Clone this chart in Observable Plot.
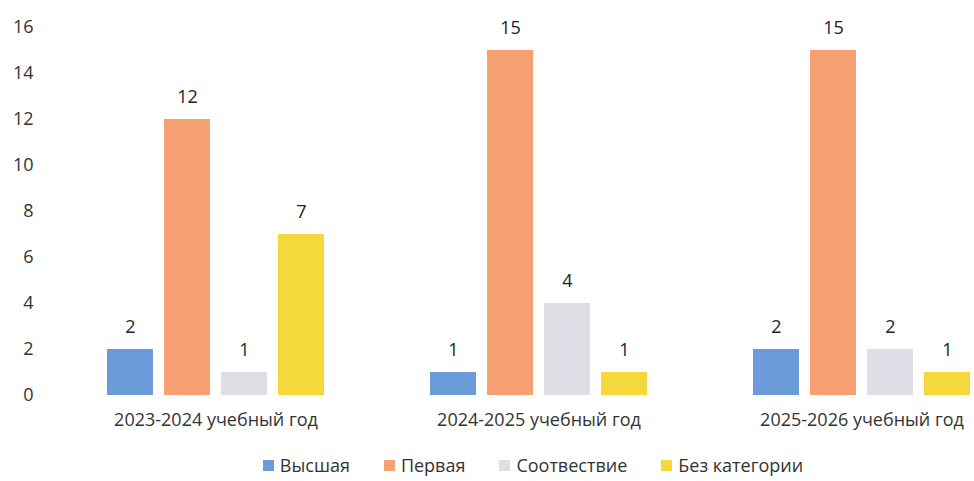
<!DOCTYPE html>
<html><head><meta charset="utf-8">
<script src="https://cdn.jsdelivr.net/npm/d3@7"></script>
<script src="https://cdn.jsdelivr.net/npm/@observablehq/plot@0.6"></script>
<style>
html,body{margin:0;padding:0;background:#fff;overflow:hidden;}
#wrap{width:1060px;font-family:"Open Sans",sans-serif;}
.legend{display:flex;justify-content:center;gap:34px;font-size:18px;color:#333;margin-top:18px;width:1066px;}
.legend span{display:inline-flex;align-items:center;}
.legend i{display:inline-block;width:11px;height:11px;margin-right:6px;}
</style></head>
<body><div id="wrap"></div>
<script>
const years = ["2023-2024 учебный год", "2024-2025 учебный год", "2025-2026 учебный год"];
const categories = ["Высшая", "Первая", "Соотвествие", "Без категории"];
const vysshaya = [2, 1, 2];
const pervaya = [12, 15, 15];
const sootv = [1, 4, 2];
const bezKat = [7, 1, 1];
const colors = ["#6b9bd8", "#f6a073", "#dfdee6", "#f5d83c"];
const yTicks = [0, 2, 4, 6, 8, 10, 12, 14, 16];

const series = [vysshaya, pervaya, sootv, bezKat];
const data = [];
years.forEach((y, i) => categories.forEach((c, j) => data.push({year: y, cat: c, value: series[j][i]})));

const chart = Plot.plot({
  width: 1040, height: 435,
  marginLeft: 54, marginRight: 17, marginTop: 27, marginBottom: 40,
  style: {fontFamily: "'Open Sans', sans-serif", fontSize: "18px", color: "#333"},
  fx: {domain: years, padding: 0, label: null, axis: "bottom", tickSize: 0, tickPadding: 18, fontSize: 19},
  x: {domain: categories, paddingInner: 0.2, paddingOuter: 0.9, axis: null},
  y: {domain: [0, 16], ticks: yTicks, label: null, tickSize: 0, tickPadding: 21},
  color: {domain: categories, range: colors},
  marks: [
    Plot.barY(data, {fx: "year", x: "cat", y: "value", fill: "cat"}),
    Plot.text(data, {fx: "year", x: "cat", y: "value", text: d => String(d.value), lineAnchor: "bottom", dy: -17, fontSize: 18, fill: "#222"})
  ]
});
document.getElementById("wrap").appendChild(chart);

const leg = document.createElement("div");
leg.className = "legend";
categories.forEach((c, j) => {
  const s = document.createElement("span");
  s.innerHTML = `<i style="background:${colors[j]}"></i>${c}`;
  leg.appendChild(s);
});
document.getElementById("wrap").appendChild(leg);
</script></body></html>
